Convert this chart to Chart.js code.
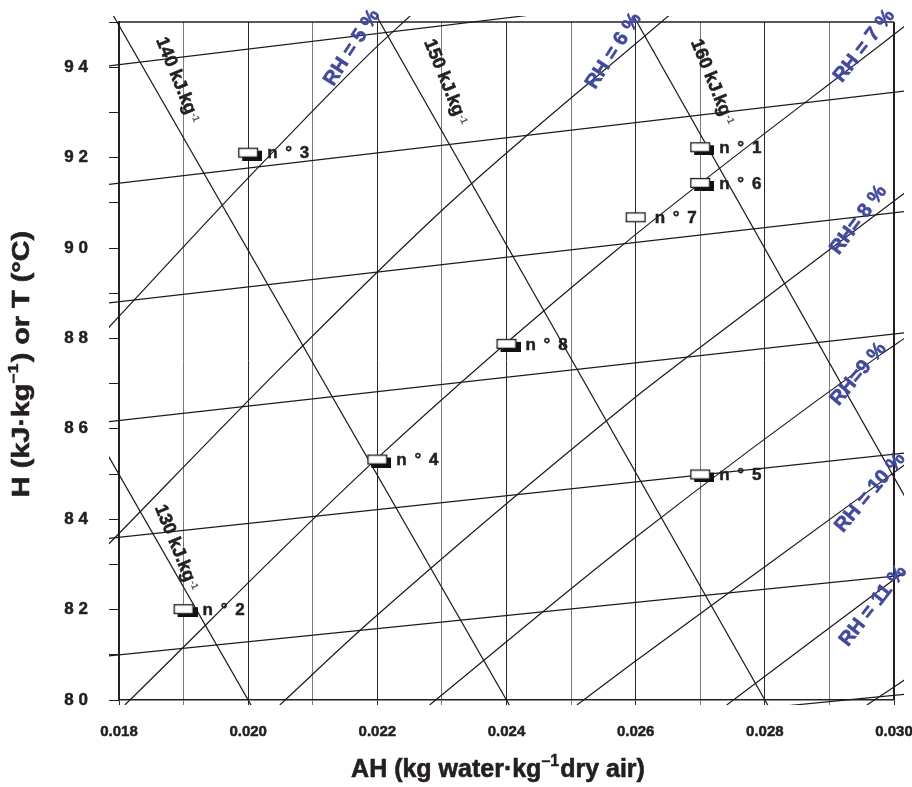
<!DOCTYPE html>
<html>
<head>
<meta charset="utf-8">
<script src="https://cdn.jsdelivr.net/npm/chart.js@4.4.1/dist/chart.umd.min.js"></script>
<style>
  html, body { margin: 0; padding: 0; background: #ffffff; }
</style>
</head>
<body>
<canvas id="psychroChart" width="912" height="787"></canvas>
<script>
// Axis range and tick labels
const xTickLabels = ["0.018", "0.020", "0.022", "0.024", "0.026", "0.028", "0.030"];
const yTickLabels = ["8 0", "8 2", "8 4", "8 6", "8 8", "9 0", "9 2", "9 4"];

// Nearly flat lines, T read at AH = 0.0178 and 0.0302
const flatAH = [0.0178, 0.0302];
const flatT = [
  [94.02, 96.16],
  [91.40, 93.48],
  [88.78, 90.81],
  [86.15, 88.13],
  [83.57, 85.47],
  [80.97, 82.77],
  [78.41, 80.13],
];

// Enthalpy lines (kJ/kg), two ends each
const enthalpyNames = ["130", "140", "150", "160"];
const enthalpyAH = [[0.0178, 0.0201], [0.0178, 0.0241], [0.02198, 0.0281], [0.02596, 0.0302]];
const enthalpyT = [[85.49, 79.75], [95.42, 79.75], [95.15, 79.75], [95.15, 84.42]];
// where their labels sit
const enthalpyLabelAH = [0.01886, 0.01888, 0.02303, 0.02716];
const enthalpyLabelT = [83.47, 93.81, 93.77, 93.77];

// Relative humidity curves
const rhNames = ["RH = 5 %", "RH = 6 %", "RH = 7 %", "RH= 8 %", "RH=9 %", "RH = 10 %", "RH = 11 %", ""];
const rhAH = [
  [0.01784, 0.0200, 0.02188, 0.02252],
  [0.01784, 0.0207, 0.02312, 0.02652],
  [0.01809, 0.0220, 0.0257, 0.03016],
  [0.02049, 0.02188, 0.02591, 0.02674, 0.03016],
  [0.02281, 0.02591, 0.02978, 0.03016],
  [0.02509, 0.02591, 0.0280, 0.03016],
  [0.02741, 0.03016],
  [0.02958, 0.03016],
];
const rhT = [
  [88.24, 91.55, 94.30, 95.15],
  [83.45, 87.63, 90.99, 95.15],
  [79.89, 85.35, 89.95, 94.90],
  [79.89, 81.73, 86.60, 87.52, 91.21],
  [79.89, 83.50, 87.63, 88.00],
  [79.89, 80.77, 82.95, 85.20],
  [79.89, 82.84],
  [79.89, 80.44],
];
const rhLabelAH = [0.02161, 0.02566, 0.02954, 0.02945, 0.02945, 0.02963, 0.02968];
const rhLabelT = [94.43, 94.36, 94.47, 90.62, 87.21, 84.59, 82.08];
const rhLabelAngle = [-57, -57, -52, -53, -50, -50, -52];

// Sample points
const sampleNames = ["n ° 1", "n ° 2", "n ° 3", "n ° 4", "n ° 5", "n ° 6", "n ° 7", "n ° 8"];
const sampleAH = [0.027, 0.019, 0.020, 0.022, 0.027, 0.027, 0.026, 0.024];
const sampleT = [92.23, 82.01, 92.11, 85.32, 84.99, 91.44, 90.68, 87.88];

const ink = "#231f20";
const rhBlue = "#3f48a5";
const family = '"Liberation Sans", Arial, Helvetica, sans-serif';
const lineClip = { left: 10, top: 6, right: 10, bottom: 5 };

// little box marker, with or without its dark shadow
function boxImage(withShadow) {
  const c = document.createElement("canvas");
  c.width = 28;
  c.height = 16;
  const g = c.getContext("2d");
  if (withShadow) {
    g.fillStyle = "#111";
    g.fillRect(8, 6, 20, 10);
  }
  g.fillStyle = "#fff";
  g.fillRect(4, 3, 20, 10);
  g.strokeStyle = "#1a1a1a";
  g.lineWidth = 1.3;
  g.strokeRect(4.6, 3.6, 18.8, 8.8);
  return c;
}
const shadowBox = boxImage(true);
const plainBox = boxImage(false);

function lineSet(xs, ys, curved) {
  return {
    type: "line",
    data: xs.map((x, i) => ({ x: x, y: ys[i] })),
    borderColor: "#1a1a1a",
    borderWidth: 1.2,
    pointRadius: 0,
    fill: false,
    tension: 0,
    cubicInterpolationMode: curved ? "monotone" : "default",
    clip: lineClip,
  };
}

const datasets = [];
flatT.forEach((ys) => datasets.push(lineSet(flatAH, ys, false)));
enthalpyAH.forEach((xs, i) => datasets.push(lineSet(xs, enthalpyT[i], false)));
rhAH.forEach((xs, i) => datasets.push(lineSet(xs, rhT[i], true)));
datasets.push({
  type: "line",
  data: sampleAH.map((x, i) => ({ x: x, y: sampleT[i] })),
  showLine: false,
  pointRadius: 6,
  pointStyle: sampleNames.map((n, i) => (i === 6 ? plainBox : shadowBox)),
  clip: false,
  order: -1,
});

// fill plus a thin stroke, so the bold text reads a little heavier
function heavyText(ctx, text, x, y, weight) {
  ctx.lineWidth = weight;
  ctx.strokeStyle = ctx.fillStyle;
  ctx.lineJoin = "round";
  ctx.strokeText(text, x, y);
  ctx.fillText(text, x, y);
}

// text drawn rotated around its centre, with an optional small superscript
function drawRotated(ctx, text, sup, px, py, deg, size, color) {
  ctx.save();
  ctx.translate(px, py);
  ctx.rotate((deg * Math.PI) / 180);
  ctx.font = "bold " + size + "px " + family;
  ctx.fillStyle = color;
  ctx.textAlign = "center";
  ctx.textBaseline = "middle";
  heavyText(ctx, text, 0, 0, 0.6);
  if (sup) {
    const w = ctx.measureText(text).width;
    ctx.font = "bold " + Math.round(size * 0.55) + "px " + family;
    ctx.textAlign = "left";
    ctx.fillStyle = "#555";
    ctx.fillText(sup, w / 2 + 1, -size * 0.12);
  }
  ctx.restore();
}

// axis title: text, raised "–1", text; centred on (cx, cy)
function drawTitle(ctx, before, after, cx, cy, deg, size, stretch) {
  const big = "bold " + size + "px " + family;
  const small = "bold " + Math.round(size * 0.62) + "px " + family;
  ctx.save();
  ctx.translate(cx, cy);
  ctx.rotate((deg * Math.PI) / 180);
  ctx.scale(stretch, 1);
  ctx.fillStyle = ink;
  ctx.textBaseline = "middle";
  ctx.textAlign = "left";
  ctx.font = big;
  const w1 = ctx.measureText(before).width;
  const w3 = ctx.measureText(after).width;
  ctx.font = small;
  const w2 = ctx.measureText("–1").width + 1;
  let x0 = -(w1 + w2 + w3) / 2;
  ctx.font = big;
  heavyText(ctx, before, x0, 0, 0.6);
  ctx.font = small;
  heavyText(ctx, "–1", x0 + w1, -size * 0.33, 0.4);
  ctx.font = big;
  heavyText(ctx, after, x0 + w1 + w2, 0, 0.6);
  ctx.restore();
}

const annotations = {
  id: "annotations",
  beforeDatasetsDraw(chart) {
    // top and right frame
    const { ctx, chartArea } = chart;
    ctx.save();
    ctx.strokeStyle = ink;
    ctx.lineWidth = 1.5;
    ctx.beginPath();
    ctx.moveTo(chartArea.left, chartArea.top);
    ctx.lineTo(chartArea.right, chartArea.top);
    ctx.stroke();
    ctx.lineWidth = 2;
    ctx.beginPath();
    ctx.moveTo(chartArea.right, chartArea.top);
    ctx.lineTo(chartArea.right, chartArea.bottom);
    ctx.stroke();
    ctx.restore();
  },
  afterDatasetsDraw(chart) {
    const { ctx } = chart;
    const xs = chart.scales.x;
    const ys = chart.scales.y;

    // sample labels
    ctx.save();
    ctx.font = "bold 17px " + family;
    ctx.fillStyle = ink;
    ctx.textAlign = "left";
    ctx.textBaseline = "middle";
    ctx.letterSpacing = "1.5px";
    sampleNames.forEach((name, i) => {
      heavyText(ctx, name, xs.getPixelForValue(sampleAH[i]) + 19, ys.getPixelForValue(sampleT[i]) + 1, 0.5);
    });
    ctx.restore();

    // enthalpy labels
    enthalpyNames.forEach((name, i) => {
      drawRotated(ctx, name + " kJ.kg", "-1",
        xs.getPixelForValue(enthalpyLabelAH[i]), ys.getPixelForValue(enthalpyLabelT[i]),
        68, 18, ink);
    });

    // RH labels
    rhLabelAH.forEach((ah, i) => {
      drawRotated(ctx, rhNames[i], "",
        xs.getPixelForValue(ah), ys.getPixelForValue(rhLabelT[i]),
        rhLabelAngle[i], 20, rhBlue);
    });

    // axis titles
    drawTitle(ctx, "AH (kg water·kg", "dry air)", 498, 770, 0, 25, 1);
    drawTitle(ctx, "H (kJ·kg", ") or T (°C)", 22, 364, -90, 24, 1.2);
  },
};

new Chart(document.getElementById("psychroChart"), {
  type: "line",
  data: { datasets: datasets },
  options: {
    responsive: false,
    animation: false,
    layout: { padding: { top: 22, right: 18, left: 0, bottom: 0 } },
    plugins: { legend: { display: false }, tooltip: { enabled: false } },
    scales: {
      x: {
        type: "linear",
        min: 0.018,
        max: 0.030,
        afterFit: (s) => {
          s.height = 87;
          s.paddingLeft = 0;
          s.paddingRight = 0;
        },
        border: { color: ink, width: 1.5 },
        grid: {
          color: (c) => (c.index % 2 === 0 ? "#2a2a2a" : "#7a7a7a"),
          lineWidth: 1,
          tickLength: 5,
        },
        ticks: {
          stepSize: 0.001,
          autoSkip: false,
          maxRotation: 0,
          padding: 18,
          color: ink,
          textStrokeColor: ink,
          textStrokeWidth: 0.5,
          font: { family: family, size: 15, weight: "bold" },
          callback: (v, i) => (i % 2 === 0 ? xTickLabels[i / 2] : ""),
        },
      },
      y: {
        min: 80,
        max: 95,
        afterFit: (s) => {
          s.width = 119;
          s.paddingTop = 0;
          s.paddingBottom = 0;
        },
        border: { color: ink, width: 1.5 },
        grid: { drawOnChartArea: false, color: ink, tickLength: 10 },
        ticks: {
          stepSize: 1,
          autoSkip: false,
          padding: 21,
          color: ink,
          textStrokeColor: ink,
          textStrokeWidth: 0.5,
          font: { family: family, size: 17, weight: "bold" },
          callback: (v, i) => (i % 2 === 0 ? yTickLabels[i / 2] : ""),
        },
      },
    },
  },
  plugins: [annotations],
});
</script>
</body>
</html>
